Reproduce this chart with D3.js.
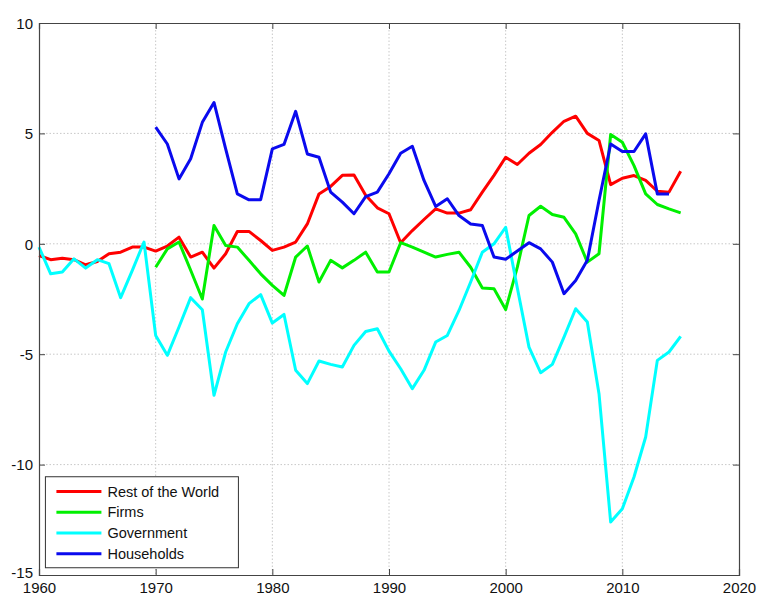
<!DOCTYPE html>
<html>
<head>
<meta charset="utf-8">
<script src="https://cdn.jsdelivr.net/npm/d3@7"></script>
<style>
  body { margin: 0; background: #fff; }
  svg text { font-family: "Liberation Sans", Arial, Helvetica, sans-serif; }
  .grid line { stroke: #c8c8c8; stroke-dasharray: 1.5 2; }
</style>
</head>
<body>
<svg width="758" height="596"></svg>
<script>
// years for each series
const yearsLong = d3.range(1960, 2016);   // Rest of the World, Government
const yearsFirms = d3.range(1970, 2016);
const yearsHouse = d3.range(1970, 2015);

const restOfWorld = [
  -0.53, -0.72, -0.65, -0.72, -0.95, -0.8, -0.45, -0.38, -0.15, -0.15,
  -0.33, -0.1, 0.3, -0.6, -0.38, -1.1, -0.45, 0.56, 0.56, 0.15,
  -0.3, -0.15, 0.08, 0.9, 2.26, 2.6, 3.1, 3.12, 2.2, 1.63,
  1.36, 0.05, 0.6, 1.1, 1.58, 1.39, 1.39, 1.54, 2.34, 3.1,
  3.92, 3.59, 4.1, 4.5, 5.05, 5.55, 5.78, 5.0, 4.68, 2.68,
  2.97, 3.09, 2.87, 2.38, 2.34, 3.29
];
const government = [
  -0.15, -1.36, -1.28, -0.68, -1.1, -0.72, -0.9, -2.44, -1.2, 0.08,
  -4.15, -5.05, -3.77, -2.44, -2.99, -6.86, -4.9, -3.62, -2.71, -2.3,
  -3.59, -3.2, -5.73, -6.33, -5.31, -5.46, -5.58, -4.6, -3.97, -3.85,
  -4.86, -5.66, -6.56, -5.73, -4.45, -4.15, -3.02, -1.73, -0.38, 0.0,
  0.75, -2.0, -4.68, -5.84, -5.46, -4.23, -2.94, -3.54, -6.79, -12.6,
  -12.0, -10.56, -8.75, -5.28, -4.9, -4.19
];
const firms = [
  -1.06, -0.23, 0.08, -1.2, -2.5, 0.83, -0.08, -0.15, -0.75, -1.36,
  -1.88, -2.34, -0.6, -0.1, -1.73, -0.75, -1.09, -0.75, -0.38, -1.28,
  -1.28, 0.05, -0.15, -0.38, -0.6, -0.48, -0.38, -1.06, -2.0, -2.04,
  -2.98, -1.06, 1.28, 1.7, 1.33, 1.2, 0.45, -0.83, -0.45, 4.95,
  4.6, 3.54, 2.26, 1.78, 1.58, 1.4
];
const households = [
  5.28, 4.52, 2.94, 3.85, 5.5, 6.4, 4.3, 2.26, 1.99, 2.0,
  4.3, 4.5, 6.0, 4.07, 3.92, 2.34, 1.89, 1.36, 2.14, 2.34,
  3.17, 4.1, 4.42, 2.87, 1.69, 2.04, 1.28, 0.9, 0.83, -0.6,
  -0.7, -0.33, 0.05, -0.23, -0.83, -2.26, -1.66, -0.75, 1.96, 4.52,
  4.18, 4.18, 4.98, 2.26, 2.26
];

const xTicks = [1960, 1970, 1980, 1990, 2000, 2010, 2020];
const yTicks = [10, 5, 0, -5, -10, -15];

const series = [
  { name: "Rest of the World", color: "#ff0000", years: yearsLong, values: restOfWorld },
  { name: "Firms", color: "#00f000", years: yearsFirms, values: firms },
  { name: "Government", color: "#00ffff", years: yearsLong, values: government },
  { name: "Households", color: "#0a0aee", years: yearsHouse, values: households }
];

const svg = d3.select("svg");
const margin = { top: 23, right: 19, bottom: 21, left: 39 };
const width = 758 - margin.left - margin.right;
const height = 596 - margin.top - margin.bottom;

const x = d3.scaleLinear().domain([1960, 2020]).range([0, width]);
const y = d3.scaleLinear().domain([-15, 10]).range([height, 0]);

const g = svg.append("g").attr("transform", `translate(${margin.left},${margin.top})`);

// grid
g.append("g").attr("class", "grid")
  .selectAll("line").data(xTicks.slice(1, -1)).enter().append("line")
    .attr("x1", d => x(d)).attr("x2", d => x(d))
    .attr("y1", 0).attr("y2", height);
g.append("g").attr("class", "grid")
  .selectAll("line").data(yTicks.slice(1, -1)).enter().append("line")
    .attr("y1", d => y(d)).attr("y2", d => y(d))
    .attr("x1", 0).attr("x2", width);

// lines
const line = d3.line().x(d => x(d[0])).y(d => y(d[1]));
g.selectAll(".series").data(series).enter().append("path")
  .attr("class", "series")
  .attr("fill", "none")
  .attr("stroke", d => d.color)
  .attr("stroke-width", 3)
  .attr("stroke-linejoin", "round")
  .attr("d", d => line(d.years.map((yr, i) => [yr, d.values[i]])));

// axes (ticks inward, MATLAB style)
const axisColor = "#444";
const xAxis = g.append("g").attr("transform", `translate(0,${height})`)
  .call(d3.axisBottom(x).tickValues(xTicks).tickFormat(d3.format("d")).tickSize(-6).tickPadding(7));
const yAxis = g.append("g")
  .call(d3.axisLeft(y).tickValues(yTicks).tickSize(-6).tickPadding(6).tickFormat(d => d < 0 ? "-" + Math.abs(d) : d));
g.append("g")
  .call(d3.axisTop(x).tickValues(xTicks).tickSize(-6).tickFormat(""));
g.append("g").attr("transform", `translate(${width},0)`)
  .call(d3.axisRight(y).tickValues(yTicks).tickSize(-6).tickFormat(""));

g.selectAll(".domain").attr("stroke", axisColor).attr("stroke-width", 1.2);
g.selectAll(".tick line").attr("stroke", axisColor);
g.selectAll(".tick text").attr("fill", "#111").style("font-size", "15px");
yAxis.selectAll(".tick text").attr("dy", d => d === -15 ? "0.15em" : "0.35em");

// legend
const legend = g.append("g").attr("transform", `translate(${x(1960.55)},${y(-10.55)})`);
legend.append("rect")
  .attr("width", 193).attr("height", 91)
  .attr("fill", "#fff").attr("stroke", "#333").attr("stroke-width", 1);
const items = legend.selectAll(".item").data(series).enter().append("g")
  .attr("transform", (d, i) => `translate(0,${14.7 + i * 20.8})`);
items.append("line")
  .attr("x1", 11).attr("x2", 56)
  .attr("stroke", d => d.color).attr("stroke-width", 3);
items.append("text")
  .attr("x", 62).attr("dy", "0.35em")
  .style("font-size", "14.5px").attr("fill", "#111")
  .text(d => d.name);
</script>
</body>
</html>
